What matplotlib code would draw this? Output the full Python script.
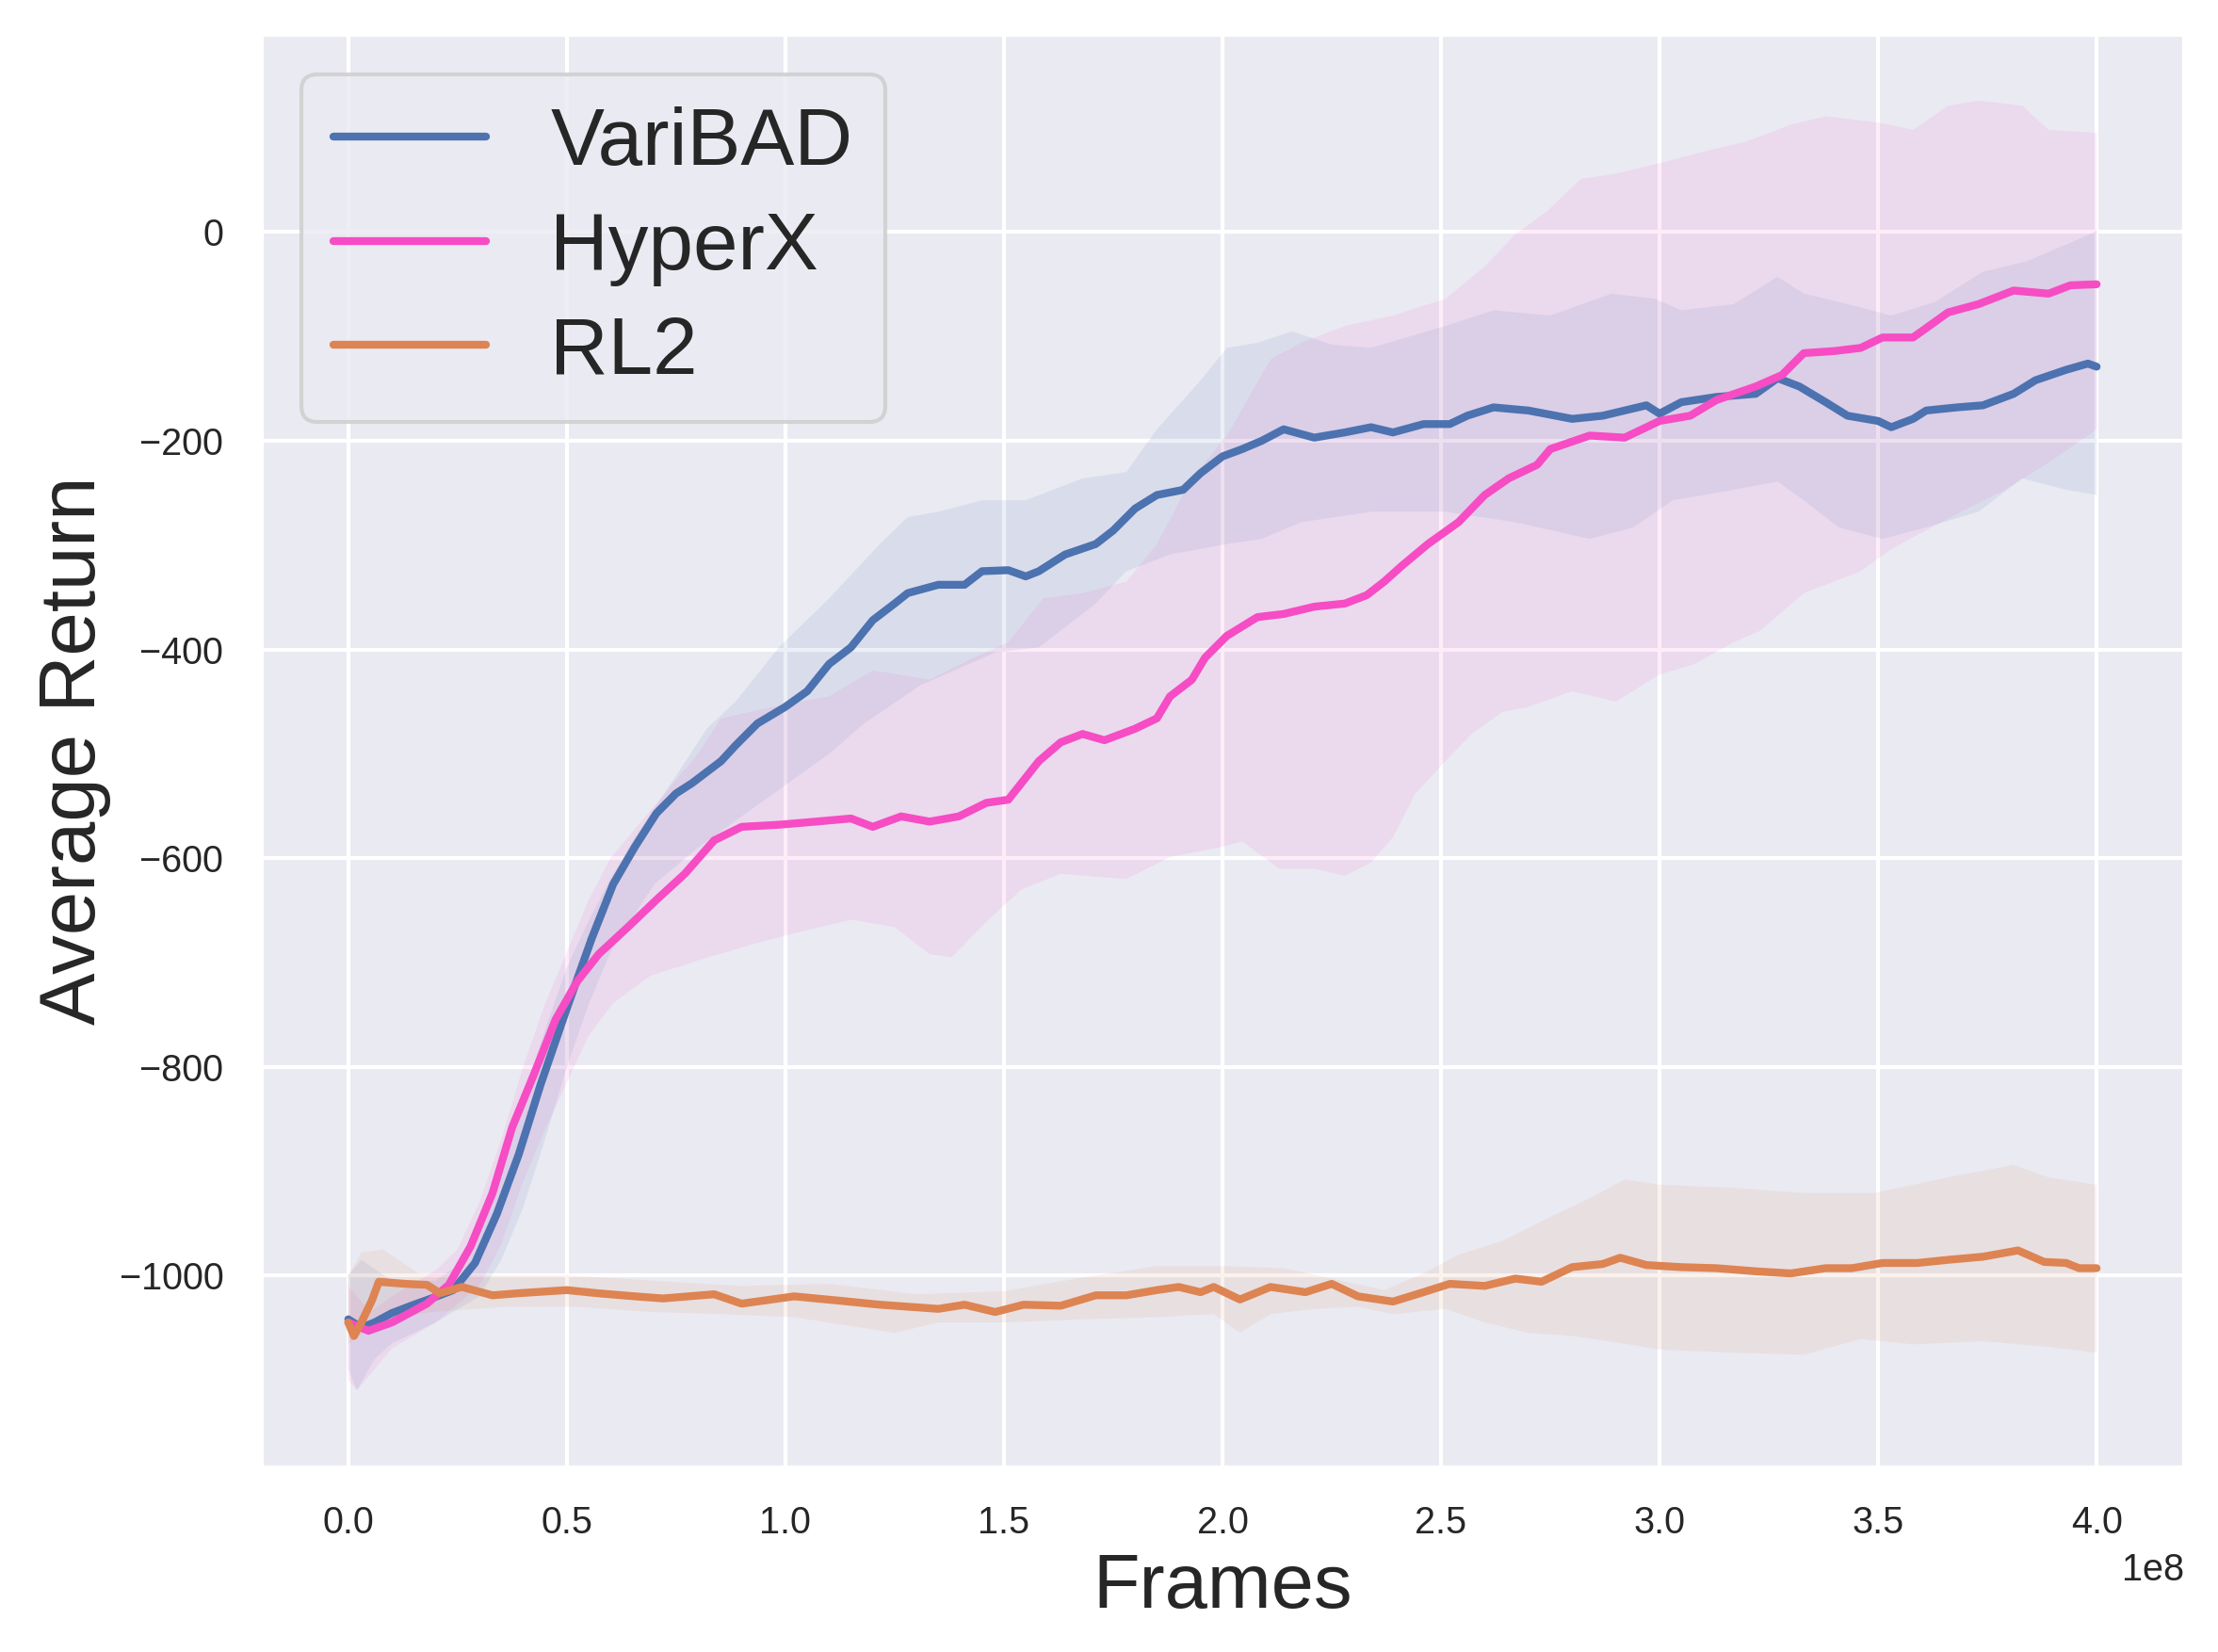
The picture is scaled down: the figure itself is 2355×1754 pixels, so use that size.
import matplotlib
matplotlib.use("Agg")
import matplotlib.pyplot as plt
import numpy as np
import seaborn as sns

# values (x in units of 1e8 frames)
vb_x = [0.0, 0.03, 0.06, 0.1, 0.15, 0.19, 0.24, 0.29, 0.34, 0.39, 0.44, 0.5, 0.557, 0.606, 0.656, 0.705,
        0.75, 0.787, 0.853, 0.886, 0.936, 1.0, 1.05, 1.1, 1.15, 1.2, 1.25, 1.28, 1.35, 1.41, 1.45, 1.51,
        1.55, 1.58, 1.64, 1.71, 1.75, 1.8, 1.85, 1.91, 1.95, 2.0, 2.045, 2.09, 2.14, 2.21, 2.28, 2.34,
        2.39, 2.46, 2.52, 2.56, 2.62, 2.7, 2.8, 2.87, 2.97, 3.0, 3.05, 3.13, 3.22, 3.27, 3.32, 3.38,
        3.43, 3.5, 3.53, 3.58, 3.61, 3.68, 3.74, 3.81, 3.86, 3.93, 3.98, 4.0]
vb_y = [-1042, -1050, -1045, -1036, -1028, -1022, -1014, -988, -941, -884, -817, -744, -677, -625, -589, -557,
        -538, -528, -507, -492, -471, -455, -440, -414, -398, -372, -356, -346, -338, -338, -325, -324,
        -330, -325, -309, -299, -286, -265, -252, -247, -231, -215, -208, -200, -189, -197, -192, -187,
        -192, -184, -184, -176, -168, -171, -179, -176, -166, -174, -163, -158, -155, -140, -148, -163,
        -176, -181, -187, -179, -171, -168, -166, -155, -142, -132, -126, -129]
vb_up_x = [0.0, 0.03, 0.1, 0.2, 0.25, 0.3, 0.35, 0.4, 0.45, 0.5, 0.55, 0.6, 0.656, 0.755, 0.82, 0.886,
           0.985, 1.1, 1.216, 1.28, 1.35, 1.45, 1.55, 1.68, 1.78, 1.85, 1.95, 2.01, 2.08, 2.16, 2.25,
           2.34, 2.51, 2.62, 2.75, 2.89, 2.99, 3.05, 3.17, 3.27, 3.33, 3.43, 3.53, 3.63, 3.74, 3.84, 3.93, 4.0]
vb_up_y = [-1000, -985, -1005, -1005, -990, -955, -900, -830, -765, -705, -660, -620, -580, -518, -476, -450,
           -398, -351, -299, -273, -268, -257, -257, -236, -230, -189, -142, -111, -106, -95, -108,
           -111, -90, -75, -80, -59, -64, -75, -69, -43, -59, -69, -80, -67, -38, -28, -12, 1]
vb_lo_x = [0.0, 0.02, 0.06, 0.1, 0.2, 0.3, 0.35, 0.4, 0.45, 0.5, 0.55, 0.6, 0.7, 0.8, 0.9, 1.0, 1.1,
           1.18, 1.31, 1.48, 1.58, 1.71, 1.78, 1.88, 2.01, 2.09, 2.18, 2.34, 2.51, 2.67, 2.84, 2.94,
           3.03, 3.17, 3.27, 3.33, 3.41, 3.51, 3.61, 3.73, 3.83, 3.93, 4.0]
vb_lo_y = [-1090, -1110, -1080, -1065, -1045, -1020, -985, -935, -870, -800, -740, -690, -625, -590, -560, -530, -500,
           -471, -434, -403, -398, -356, -325, -309, -299, -294, -278, -268, -268, -278, -294, -283,
           -257, -247, -239, -257, -283, -294, -283, -268, -236, -247, -252]

hx_x = [0.0, 0.046, 0.1, 0.18, 0.23, 0.28, 0.33, 0.375, 0.425, 0.474, 0.524, 0.573, 0.64, 0.705, 0.77,
        0.837, 0.9, 0.985, 1.07, 1.15, 1.2, 1.265, 1.33, 1.397, 1.46, 1.51, 1.58, 1.63, 1.68, 1.73, 1.8,
        1.85, 1.88, 1.93, 1.96, 2.01, 2.08, 2.14, 2.21, 2.28, 2.33, 2.37, 2.41, 2.47, 2.54, 2.6, 2.655,
        2.72, 2.75, 2.84, 2.92, 3.0, 3.07, 3.13, 3.22, 3.28, 3.33, 3.4, 3.46, 3.51, 3.58, 3.66, 3.73,
        3.81, 3.89, 3.94, 4.0]
hx_y = [-1045, -1053, -1045, -1027, -1009, -972, -921, -858, -807, -755, -718, -692, -666, -640, -615,
        -583, -570, -568, -565, -562, -570, -560, -565, -560, -547, -544, -507, -489, -481, -487, -476,
        -466, -445, -429, -408, -387, -369, -366, -359, -356, -348, -335, -320, -299, -278, -252, -236,
        -223, -208, -195, -197, -181, -176, -161, -148, -137, -116, -114, -111, -101, -101, -77, -69,
        -56, -59, -51, -50]
hx_up_x = [0.0, 0.05, 0.1, 0.2, 0.25, 0.3, 0.35, 0.4, 0.45, 0.5, 0.55, 0.6, 0.7, 0.8, 0.853, 0.97,
           1.1, 1.2, 1.33, 1.42, 1.51, 1.59, 1.68, 1.78, 1.85, 1.93, 2.01, 2.11, 2.18, 2.28, 2.39, 2.51,
           2.6, 2.67, 2.74, 2.82, 2.9, 3.0, 3.1, 3.2, 3.3, 3.38, 3.5, 3.58, 3.66, 3.73, 3.83, 3.89, 4.0]
hx_up_y = [-1010, -1035, -1020, -995, -975, -930, -870, -800, -740, -690, -640, -600, -550, -500, -466, -455,
           -445, -420, -429, -410, -393, -351, -346, -335, -299, -236, -195, -122, -106, -90, -80, -64,
           -33, -2, 19, 51, 56, 66, 77, 87, 103, 111, 105, 98, 121, 126, 121, 98, 95]
hx_lo_x = [0.0, 0.02, 0.1, 0.2, 0.3, 0.35, 0.4, 0.45, 0.5, 0.55, 0.606, 0.69, 0.8, 0.93, 1.02, 1.15,
           1.25, 1.33, 1.38, 1.46, 1.54, 1.63, 1.78, 1.88, 2.0, 2.045, 2.13, 2.21, 2.28, 2.34, 2.39,
           2.44, 2.51, 2.57, 2.64, 2.7, 2.8, 2.9, 3.0, 3.08, 3.17, 3.23, 3.33, 3.46, 3.53, 3.6, 3.69,
           3.79, 3.89, 4.0]
hx_lo_y = [-1100, -1110, -1070, -1045, -1010, -970, -910, -860, -815, -770, -739, -713, -698, -682, -672, -659,
           -666, -692, -695, -661, -630, -615, -620, -599, -589, -584, -610, -610, -617, -604, -580,
           -539, -507, -481, -460, -455, -440, -450, -424, -414, -393, -382, -346, -325, -304, -288, -268,
           -247, -221, -189]

rl_x = [0.0, 0.013, 0.03, 0.054, 0.07, 0.13, 0.18, 0.21, 0.26, 0.33, 0.39, 0.5, 0.57, 0.656, 0.72, 0.837,
        0.9, 1.02, 1.12, 1.216, 1.35, 1.41, 1.48, 1.545, 1.63, 1.71, 1.78, 1.85, 1.9, 1.95, 1.98, 2.04,
        2.11, 2.19, 2.25, 2.31, 2.39, 2.46, 2.52, 2.6, 2.67, 2.73, 2.8, 2.87, 2.91, 2.97, 3.05, 3.13,
        3.22, 3.3, 3.38, 3.44, 3.51, 3.59, 3.66, 3.74, 3.82, 3.88, 3.93, 3.96, 4.0]
rl_y = [-1045, -1058, -1045, -1024, -1006, -1008, -1009, -1017, -1011, -1019, -1017, -1014, -1017, -1020, -1022, -1018,
        -1027, -1020, -1024, -1028, -1032, -1028, -1035, -1028, -1029, -1019, -1019, -1014, -1011, -1016, -1011, -1023,
        -1011, -1016, -1008, -1020, -1025, -1016, -1008, -1010, -1003, -1006, -992, -989, -983, -990, -992, -993,
        -996, -998, -993, -993, -988, -988, -985, -982, -976, -987, -988, -993, -993]
rl_up_x = [0.0, 0.03, 0.08, 0.16, 0.3, 0.5, 0.7, 0.9, 1.1, 1.3, 1.5, 1.68, 1.85, 2.01, 2.14, 2.25, 2.37,
           2.46, 2.54, 2.64, 2.74, 2.84, 2.92, 3.0, 3.17, 3.33, 3.49, 3.66, 3.81, 3.89, 4.0]
rl_up_y = [-1000, -978, -975, -998, -1000, -1000, -1005, -1010, -1008, -1018, -1015, -1002, -991, -991, -993, -1003, -1014,
           -998, -980, -967, -946, -926, -908, -913, -916, -921, -921, -906, -894, -906, -913]
rl_lo_x = [0.0, 0.06, 0.19, 0.36, 0.52, 0.69, 0.85, 1.02, 1.25, 1.35, 1.51, 1.68, 1.85, 1.98, 2.04, 2.11,
           2.21, 2.31, 2.39, 2.51, 2.6, 2.7, 2.8, 2.93, 3.0, 3.17, 3.33, 3.46, 3.58, 3.74, 3.88, 4.0]
rl_lo_y = [-1066, -1045, -1035, -1030, -1030, -1035, -1037, -1040, -1055, -1045, -1045, -1042, -1040, -1037, -1055, -1037,
           -1032, -1030, -1037, -1032, -1045, -1055, -1058, -1066, -1071, -1074, -1076, -1061, -1066, -1063, -1068, -1074]

labels = ["VariBAD", "HyperX", "RL2"]
colors = ["#4C72B0", "#F64CC4", "#DD8452"]

sns.set_theme(style="darkgrid")
plt.rcParams['font.family'] = ['Liberation Sans', 'DejaVu Sans']

fig, ax = plt.subplots(figsize=(7.85, 5.8467), dpi=300)
fig.subplots_adjust(left=0.1176, right=0.9847, top=0.9795, bottom=0.1117)

series = [
    (vb_x, vb_y, vb_up_x, vb_up_y, vb_lo_x, vb_lo_y),
    (hx_x, hx_y, hx_up_x, hx_up_y, hx_lo_x, hx_lo_y),
    (rl_x, rl_y, rl_up_x, rl_up_y, rl_lo_x, rl_lo_y),
]

# shaded bands first
for (mx, my, ux, uy, lx, ly), c in zip(series, colors):
    px = np.concatenate([np.array(ux), np.array(lx)[::-1]]) * 1e8
    py = np.concatenate([np.array(uy), np.array(ly)[::-1]])
    ax.fill(px, py, color=c, alpha=0.1, linewidth=0)

for (mx, my, ux, uy, lx, ly), c, lab in zip(series, colors, labels):
    ax.plot(np.array(mx) * 1e8, my, color=c, linewidth=2.0, label=lab)

ax.set_xlim(-0.2e8, 4.2e8)
ax.set_ylim(-1184, 190)
ax.set_xticks(np.arange(0, 4.01, 0.5) * 1e8)
ax.set_yticks([-1000, -800, -600, -400, -200, 0])
ax.tick_params(labelsize=9.5)
ax.xaxis.get_offset_text().set_fontsize(9.5)
ax.set_xlabel("Frames", fontsize=19.5, labelpad=3)
ax.set_ylabel("Average Return", fontsize=20, labelpad=2)
ax.legend(loc="upper left", fontsize=20.5, handlelength=1.9, borderaxespad=0.5, labelspacing=0.36)

plt.savefig("out.png", dpi=300)
